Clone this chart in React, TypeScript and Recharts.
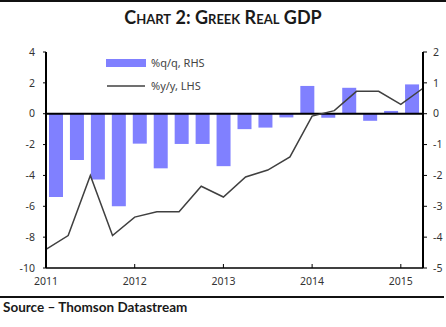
import { ComposedChart, Bar, Line, XAxis, YAxis, ReferenceLine, Legend } from "recharts";

const quarters = [
  "2011Q1", "2011Q2", "2011Q3", "2011Q4",
  "2012Q1", "2012Q2", "2012Q3", "2012Q4",
  "2013Q1", "2013Q2", "2013Q3", "2013Q4",
  "2014Q1", "2014Q2", "2014Q3", "2014Q4",
  "2015Q1", "2015Q2",
];

// %q/q, right-hand scale
const qoq = [-2.7, -1.5, -2.13, -3.0, -0.97, -1.77, -0.98, -0.98, -1.7, -0.5, -0.45, -0.12, 0.9, -0.13, 0.84, -0.23, 0.09, 0.95];

// %y/y, left-hand scale
const yoy = [-8.8, -7.9, -4.0, -7.9, -6.7, -6.35, -6.35, -4.7, -5.4, -4.1, -3.65, -2.8, -0.15, 0.2, 1.45, 1.45, 0.6, 1.65];

const lhsTicks = [-10, -8, -6, -4, -2, 0, 2, 4];
const rhsTicks = [-5, -4, -3, -2, -1, 0, 1, 2];

const rows = quarters.map((q, i) => ({ q, qoq: qoq[i], yoy: yoy[i] }));

const tickStyle = { fill: "#333", fontSize: 10.5, fontFamily: "Noto Sans, sans-serif" };
const X_MARGIN = 10;

// year label plus a short tick pointing up into the plot
function YearTick({ x, y, payload }: any) {
  const axisY = y - X_MARGIN;
  return (
    <g>
      <line x1={x} x2={x} y1={axisY} y2={axisY - 4} stroke="#000" strokeWidth={1} />
      <text x={x} y={y} dy="0.71em" textAnchor="middle" {...tickStyle}>
        {String(payload.value).slice(0, 4)}
      </text>
    </g>
  );
}

function ChartLegend({ payload }: any) {
  return (
    <div style={{ fontFamily: "Noto Sans, sans-serif", fontSize: 11, color: "#444" }}>
      {(payload || []).map((p: any) => (
        <div key={p.value} style={{ display: "flex", alignItems: "center", height: 23 }}>
          <svg width={44} height={10}>
            {p.type === "rect" ? (
              <rect x={0} y={1} width={40} height={8} fill={p.color} />
            ) : (
              <line x1={1} x2={39} y1={5} y2={5} stroke={p.color} strokeWidth={1.5} />
            )}
          </svg>
          <span style={{ marginLeft: 1 }}>{p.value}</span>
        </div>
      ))}
    </div>
  );
}

export default function App() {
  return (
    <div style={{ position: "absolute", left: 0, top: 0, width: 446, height: 327, background: "#fff" }}>
      <div style={{ position: "absolute", left: 0, top: 0, width: 446, height: 2, background: "#111" }} />
      <div
        style={{
          position: "absolute",
          left: 0,
          top: 6,
          width: 446,
          textAlign: "center",
          fontFamily: "Lato, sans-serif",
          fontWeight: 700,
          fontSize: 18,
          fontVariant: "small-caps",
          color: "#1a1a1a",
        }}
      >
        Chart 2: Greek Real GDP
      </div>
      <ComposedChart width={446} height={327} data={rows} margin={{ top: 52, right: 0, bottom: 29, left: 0 }}>
        <XAxis
          xAxisId="pts"
          dataKey="q"
          scale="point"
          interval={3}
          tick={<YearTick />}
          axisLine={{ stroke: "#000", strokeWidth: 1.5 }}
          tickLine={false}
          tickSize={0}
          tickMargin={X_MARGIN}
          height={30}
        />
        <XAxis xAxisId="bars" dataKey="q" hide height={0} />
        <YAxis
          yAxisId="lhs"
          domain={[-10, 4]}
          ticks={lhsTicks}
          width={46}
          tick={tickStyle}
          axisLine={{ stroke: "#000", strokeWidth: 2 }}
          tickLine={{ stroke: "#000" }}
          tickSize={3}
          tickMargin={8}
        />
        <YAxis
          yAxisId="rhs"
          orientation="right"
          domain={[-5, 2]}
          ticks={rhsTicks}
          width={23}
          tick={tickStyle}
          axisLine={{ stroke: "#000", strokeWidth: 2 }}
          tickLine={{ stroke: "#000" }}
          tickSize={4}
          tickMargin={6}
        />
        <Legend
          layout="vertical"
          align="center"
          verticalAlign="middle"
          content={<ChartLegend />}
          wrapperStyle={{ left: 106, top: 51, width: 140 }}
        />
        <Bar xAxisId="bars" yAxisId="rhs" dataKey="qoq" name="%q/q, RHS" barSize={14} fill="#8080ff" isAnimationActive={false} />
        <ReferenceLine xAxisId="pts" yAxisId="lhs" y={0} stroke="#000" strokeWidth={2} />
        <Line
          xAxisId="pts"
          yAxisId="lhs"
          dataKey="yoy"
          name="%y/y, LHS"
          type="linear"
          stroke="#404040"
          strokeWidth={1.5}
          dot={false}
          legendType="line"
          isAnimationActive={false}
        />
      </ComposedChart>
      <div style={{ position: "absolute", left: 0, top: 296, width: 444, height: 1.5, background: "#111" }} />
      <div
        style={{
          position: "absolute",
          left: 3,
          top: 299,
          fontFamily: "Lato, sans-serif",
          fontWeight: 700,
          fontSize: 13.5,
          color: "#1a1a1a",
        }}
      >
        Source – Thomson Datastream
      </div>
    </div>
  );
}
